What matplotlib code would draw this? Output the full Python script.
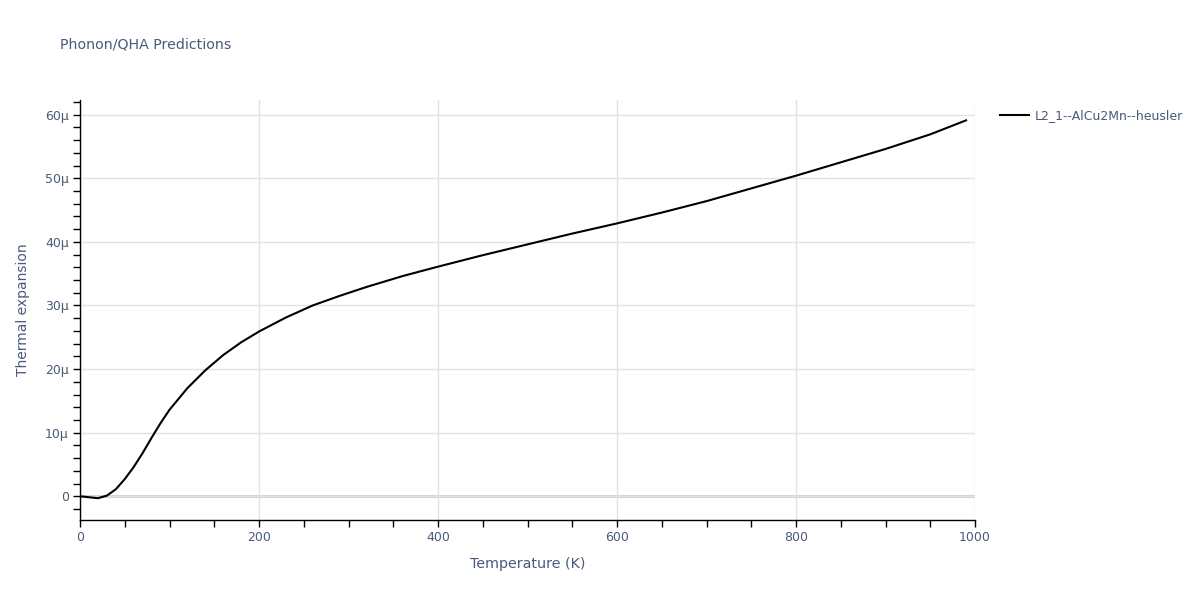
import matplotlib

matplotlib.use("Agg")
import matplotlib.pyplot as plt
from matplotlib.ticker import FuncFormatter, MultipleLocator

# DATA =================================================================================================================

TEMPERATURE = [0, 10, 20, 30, 40, 50, 60, 70, 80, 90, 100, 120, 140, 160, 180, 200, 230, 260, 290, 320,
               360, 400, 450, 500, 550, 600, 650, 700, 750, 800, 850, 900, 950, 990]
THERMAL_EXPANSION = [0.0, -0.15, -0.3, 0.1, 1.1, 2.7, 4.6, 6.8, 9.2, 11.5, 13.6, 17.0, 19.8, 22.2, 24.2, 25.9,
                     28.1, 30.0, 31.5, 32.9, 34.6, 36.1, 37.9, 39.6, 41.3, 42.9, 44.6, 46.4, 48.4, 50.4,
                     52.5, 54.6, 56.9, 59.1]
THERMAL_EXPANSION = [v * 1e-6 for v in THERMAL_EXPANSION]
SERIES_NAME = "L2_1--AlCu2Mn--heusler"

TITLE = "Phonon/QHA Predictions"
X_LABEL = "Temperature (K)"
Y_LABEL = "Thermal expansion"

# STYLE ================================================================================================================

TEXT_COLOR = "#4a5a7a"
GRID_COLOR = "#e2e2e2"
ZERO_COLOR = "#cccccc"

plt.rcParams["font.family"] = ["DejaVu Sans"]


def micro_format(value, _pos):
    scaled = round(value * 1e6)
    if scaled == 0:
        return "0"
    return f"{scaled}µ"


# PLOTTING =============================================================================================================

def main() -> None:
    fig = plt.figure(figsize=(12, 6), dpi=100)
    ax = fig.add_axes([80 / 1200, 1 - 520 / 600, 895 / 1200, 420 / 600])

    ax.plot(TEMPERATURE, THERMAL_EXPANSION, color="black", linewidth=1.5, label=SERIES_NAME, zorder=3)

    ax.set_xlim(0, 1000)
    ax.set_ylim(-3.73e-6, 62.3e-6)

    ax.xaxis.set_major_locator(MultipleLocator(200))
    ax.xaxis.set_minor_locator(MultipleLocator(50))
    ax.yaxis.set_major_locator(MultipleLocator(10e-6))
    ax.yaxis.set_minor_locator(MultipleLocator(2e-6))
    ax.yaxis.set_major_formatter(FuncFormatter(micro_format))

    ax.grid(True, which="major", color=GRID_COLOR, linewidth=1.0, zorder=0)
    ax.axhline(0, color=ZERO_COLOR, linewidth=2.0, zorder=1)

    for side in ("top", "right"):
        ax.spines[side].set_visible(False)
    for side in ("left", "bottom"):
        ax.spines[side].set_color("black")
        ax.spines[side].set_linewidth(1.0)

    ax.tick_params(which="both", direction="out", color="black", width=1.0, labelcolor=TEXT_COLOR,
                   labelsize=9)
    ax.tick_params(which="major", length=5, pad=3)
    ax.tick_params(which="minor", length=5)

    ax.set_xlabel(X_LABEL, color=TEXT_COLOR, fontsize=10.3, labelpad=9)
    ax.set_ylabel(Y_LABEL, color=TEXT_COLOR, fontsize=10, labelpad=10)
    ax.yaxis.set_label_coords(-50 / 895, 0.5)

    fig.text(60 / 1200, 1 - 45 / 600, TITLE, color=TEXT_COLOR, fontsize=10.2, va="center", ha="left")

    legend = ax.legend(loc="upper left", bbox_to_anchor=(995 / 1200, 1 - 104 / 600),
                       bbox_transform=fig.transFigure, frameon=False, fontsize=9,
                       handlelength=2.3, handletextpad=0.5, borderaxespad=0)
    for text in legend.get_texts():
        text.set_color(TEXT_COLOR)

    fig.savefig("out.png", dpi=100)


if __name__ == "__main__":
    main()
